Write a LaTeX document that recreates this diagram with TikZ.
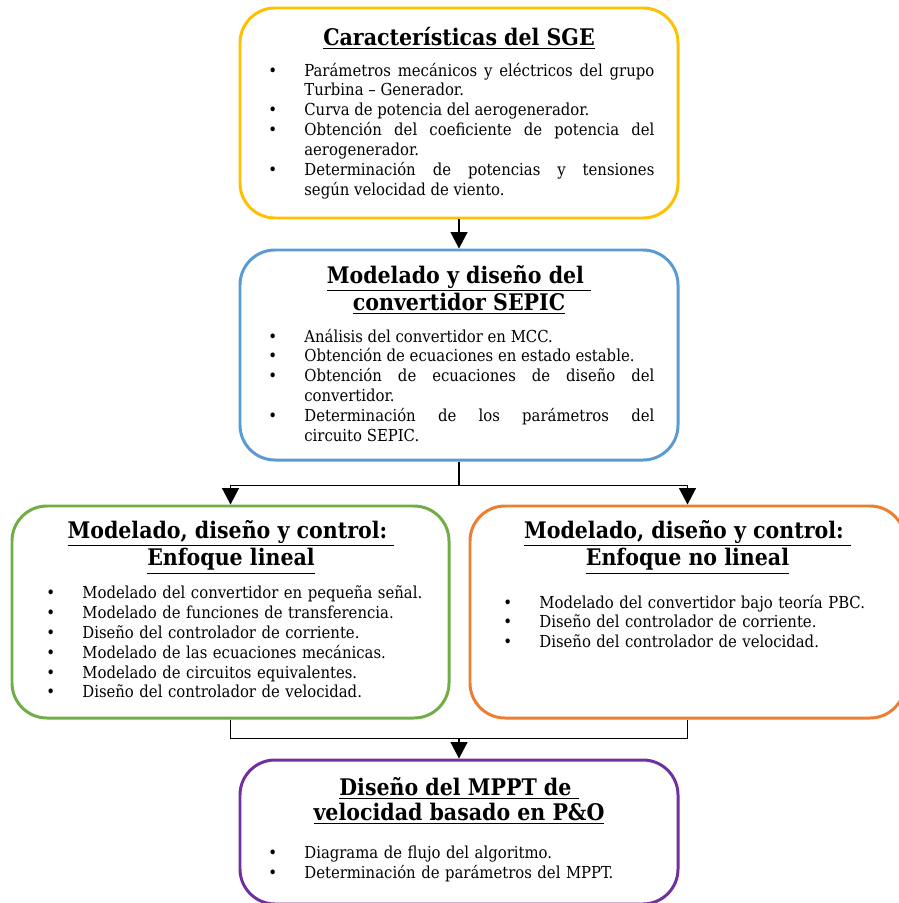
\documentclass[tikz,border=0pt]{standalone}
\usepackage{fontspec}
\setmainfont{DejaVu Serif Condensed}
\usetikzlibrary{arrows.meta,positioning}

\definecolor{amarillo}{HTML}{FFC000}
\definecolor{azul}{HTML}{5B9BD5}
\definecolor{verde}{HTML}{70AD47}
\definecolor{naranja}{HTML}{ED7D31}
\definecolor{morado}{HTML}{7030A0}

\hyphenpenalty=10000
\exhyphenpenalty=10000

\newcommand{\itm}[1]{\hangindent=7.2mm\hangafter=1\noindent\makebox[7.2mm][l]{\textbullet}#1\par}

\tikzset{
  caja/.style={draw=#1, line width=1.7pt, rounded corners=7mm, minimum width=87.6mm,
    minimum height=42mm, inner sep=0pt},
  titulo/.style={font=\fontsize{13}{14.5}\selectfont\bfseries, align=center, inner sep=0pt},
  lista/.style={font=\fontsize{9.4}{11.3}\selectfont, text width=#1, anchor=north west,
    inner sep=0pt},
  flecha/.style={-{Triangle[width=3.4mm,length=3.3mm]}, line width=0.8pt},
  linea/.style={line width=0.8pt}
}

\begin{document}
\begin{tikzpicture}[x=0.2mm, y=-0.2mm]
\useasboundingbox (0,0) rectangle (899,903);

\node[caja=amarillo] (sge) at (459,113) {};
\node[caja=azul] (sepic) at (459,355) {};
\node[caja=verde, minimum width=87.4mm, minimum height=42.4mm] (lineal) at (230.5,612) {};
\node[caja=naranja, minimum width=87mm, minimum height=42.4mm] (nolineal) at (687.5,612) {};
\node[caja=morado, minimum height=28.8mm] (mppt) at (459,832) {};

\node[titulo] (sgeT) at (459,38) {\underline{Características del SGE}};
\node[lista=77.2mm, align=justify] (sgeL) at (268,62.5) {%
  \itm{Parámetros mecánicos y eléctricos del grupo Turbina -- Generador.}
  \itm{Curva de potencia del aerogenerador.}
  \itm{Obtención del coeficiente de potencia del aerogenerador.}
  \itm{Determinación de potencias y tensiones\linebreak según velocidad de viento.}};

\node[titulo] (sepicT) at (459,290) {\underline{Modelado y diseño del\ }\\\underline{convertidor SEPIC}};
\node[lista=77.2mm, align=justify] (sepicL) at (268,328.5) {%
  \itm{Análisis del convertidor en MCC.}
  \itm{Obtención de ecuaciones en estado estable.}
  \itm{Obtención de ecuaciones de diseño del convertidor.}
  \itm{Determinación de los parámetros del\linebreak circuito SEPIC.}};

\node[titulo] (linealT) at (231,547) {\underline{Modelado, diseño y control:\ }\\\underline{Enfoque lineal}};
\node[lista=80mm, align=left] (linealL) at (46,585.5) {%
  \itm{Modelado del convertidor en pequeña señal.}
  \itm{Modelado de funciones de transferencia.}
  \itm{Diseño del controlador de corriente.}
  \itm{Modelado de las ecuaciones mecánicas.}
  \itm{Modelado de circuitos equivalentes.}
  \itm{Diseño del controlador de velocidad.}};

\node[titulo] (nolinealT) at (687.5,547) {\underline{Modelado, diseño y control:\ }\\\underline{Enfoque no lineal}};
\node[lista=78mm, align=left] (nolinealL) at (503,594.5) {%
  \itm{Modelado del convertidor bajo teoría PBC.}
  \itm{Diseño del controlador de corriente.}
  \itm{Diseño del controlador de velocidad.}};

\node[titulo] (mpptT) at (459,801) {\underline{Diseño del MPPT de\ }\\\underline{velocidad basado en P\&O}};
\node[lista=78mm, align=left] (mpptL) at (268,846) {%
  \itm{Diagrama de flujo del algoritmo.}
  \itm{Determinación de parámetros del MPPT.}};

\coordinate[below=4.8mm of sepic] (split);
\coordinate[above=4mm of mppt] (junta);

\draw[flecha] (sge) -- (sepic);
\draw[linea] (sepic) -- (split);
\draw[flecha] (split) -| (lineal);
\draw[flecha] (split) -| (nolineal);
\draw[linea] (lineal) |- (junta) -| (nolineal);
\draw[flecha] (junta) -- (mppt);
\end{tikzpicture}
\end{document}
